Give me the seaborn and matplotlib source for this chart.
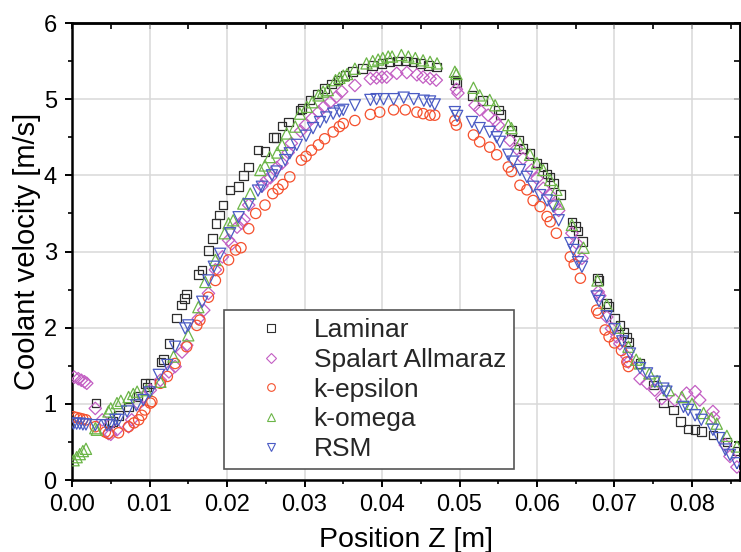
import numpy as np
import pandas as pd
import matplotlib
matplotlib.use("Agg")
import matplotlib.pyplot as plt
import seaborn as sns
from matplotlib.lines import Line2D
from matplotlib.ticker import MultipleLocator, FormatStrFormatter

sns.set_theme(style="white")
plt.rcParams['font.family'] = ['Liberation Sans', 'DejaVu Sans']

models = ["Laminar", "Spalart Allmaraz", "k-epsilon", "k-omega", "RSM"]

laminar_z = [0.0031, 0.0048, 0.0052, 0.0060, 0.0073, 0.0085, 0.0094, 0.0097, 0.0101, 0.0115,
             0.0118, 0.0125, 0.0135, 0.0141, 0.0145, 0.0148, 0.0163, 0.0168, 0.0176, 0.0181,
             0.0186, 0.0190, 0.0195, 0.0204, 0.0215, 0.0221, 0.0228, 0.0240, 0.0249, 0.0260,
             0.0263, 0.0271, 0.0279, 0.0294, 0.0297, 0.0307, 0.0317, 0.0326, 0.0335, 0.0343,
             0.0352, 0.0362, 0.0375, 0.0388, 0.0400, 0.0410, 0.0420, 0.0430, 0.0440, 0.0450,
             0.0460, 0.0470, 0.0494, 0.0497, 0.0516, 0.0530, 0.0550, 0.0553, 0.0567, 0.0576,
             0.0582, 0.0591, 0.0600, 0.0608, 0.0613, 0.0617, 0.0621, 0.0630, 0.0645, 0.0650,
             0.0653, 0.0659, 0.0678, 0.0680, 0.0690, 0.0692, 0.0700, 0.0707, 0.0712, 0.0716,
             0.0719, 0.0733, 0.0750, 0.0763, 0.0776, 0.0785, 0.0795, 0.0804, 0.0812, 0.0827,
             0.0845, 0.0858]
laminar_v = [1.01, 0.75, 0.77, 0.85, 0.96, 1.10, 1.27, 1.22, 1.27, 1.55,
             1.58, 1.79, 2.13, 2.30, 2.38, 2.44, 2.70, 2.76, 3.01, 3.17,
             3.37, 3.48, 3.61, 3.81, 3.85, 4.00, 4.11, 4.33, 4.31, 4.50,
             4.50, 4.65, 4.70, 4.86, 4.88, 4.99, 5.07, 5.14, 5.20, 5.25,
             5.31, 5.36, 5.40, 5.44, 5.47, 5.49, 5.50, 5.50, 5.49, 5.47,
             5.44, 5.42, 5.25, 5.22, 5.05, 4.98, 4.86, 4.80, 4.59, 4.46,
             4.35, 4.29, 4.16, 4.11, 4.02, 3.98, 3.89, 3.75, 3.39, 3.33,
             3.27, 3.13, 2.65, 2.62, 2.32, 2.28, 2.12, 2.03, 1.94, 1.87,
             1.81, 1.53, 1.25, 1.01, 0.92, 0.77, 0.67, 0.66, 0.64, 0.59,
             0.50, 0.38]

sa_z = [0.0003, 0.0008, 0.0012, 0.0016, 0.0019, 0.0030, 0.0039, 0.0047, 0.0050, 0.0058,
        0.0073, 0.0077, 0.0086, 0.0092, 0.0101, 0.0114, 0.0125, 0.0133, 0.0142, 0.0148,
        0.0163, 0.0170, 0.0176, 0.0185, 0.0194, 0.0202, 0.0206, 0.0213, 0.0219, 0.0222,
        0.0228, 0.0245, 0.0251, 0.0256, 0.0264, 0.0271, 0.0279, 0.0283, 0.0295, 0.0301,
        0.0310, 0.0318, 0.0325, 0.0333, 0.0341, 0.0348, 0.0365, 0.0385, 0.0393, 0.0400,
        0.0406, 0.0419, 0.0432, 0.0445, 0.0453, 0.0462, 0.0470, 0.0496, 0.0498, 0.0520,
        0.0526, 0.0537, 0.0546, 0.0550, 0.0565, 0.0574, 0.0582, 0.0593, 0.0600, 0.0608,
        0.0617, 0.0623, 0.0628, 0.0645, 0.0651, 0.0658, 0.0679, 0.0681, 0.0690, 0.0696,
        0.0703, 0.0707, 0.0716, 0.0718, 0.0733, 0.0742, 0.0752, 0.0761, 0.0778, 0.0793,
        0.0804, 0.0810, 0.0827, 0.0828, 0.0843, 0.0849, 0.0858]
sa_v = [1.35, 1.33, 1.31, 1.29, 1.27, 0.94, 0.79, 0.61, 0.60, 0.66,
        0.70, 0.79, 1.00, 1.09, 1.18, 1.31, 1.42, 1.49, 1.68, 1.77,
        2.12, 2.23, 2.45, 2.76, 2.93, 3.15, 3.10, 3.32, 3.37, 3.42,
        3.61, 3.86, 3.94, 3.97, 4.10, 4.16, 4.30, 4.42, 4.58, 4.66,
        4.75, 4.83, 4.90, 4.96, 5.03, 5.10, 5.18, 5.27, 5.28, 5.29,
        5.29, 5.34, 5.35, 5.32, 5.29, 5.27, 5.25, 5.13, 5.08, 4.92,
        4.86, 4.79, 4.72, 4.66, 4.46, 4.35, 4.22, 4.07, 3.96, 3.83,
        3.74, 3.61, 3.54, 3.24, 3.11, 2.91, 2.47, 2.42, 2.14, 1.99,
        1.88, 1.79, 1.62, 1.55, 1.33, 1.27, 1.18, 1.07, 1.05, 1.14,
        1.16, 1.05, 0.90, 0.82, 0.46, 0.31, 0.17]

ke_z = [0.0002, 0.0006, 0.0010, 0.0014, 0.0018, 0.0030, 0.0043, 0.0047, 0.0060, 0.0073,
        0.0080, 0.0086, 0.0090, 0.0094, 0.0101, 0.0103, 0.0114, 0.0123, 0.0133, 0.0148,
        0.0161, 0.0165, 0.0176, 0.0185, 0.0189, 0.0202, 0.0211, 0.0218, 0.0228, 0.0237,
        0.0249, 0.0259, 0.0266, 0.0272, 0.0281, 0.0296, 0.0302, 0.0309, 0.0318, 0.0326,
        0.0337, 0.0345, 0.0350, 0.0365, 0.0385, 0.0397, 0.0415, 0.0430, 0.0445, 0.0453,
        0.0462, 0.0468, 0.0494, 0.0496, 0.0518, 0.0526, 0.0539, 0.0548, 0.0563, 0.0567,
        0.0578, 0.0587, 0.0595, 0.0604, 0.0613, 0.0617, 0.0625, 0.0643, 0.0648, 0.0656,
        0.0677, 0.0679, 0.0688, 0.0693, 0.0700, 0.0709, 0.0716, 0.0718]
ke_v = [0.83, 0.82, 0.81, 0.80, 0.79, 0.70, 0.63, 0.61, 0.62, 0.70,
        0.75, 0.79, 0.85, 0.92, 1.01, 1.03, 1.27, 1.36, 1.53, 1.75,
        2.03, 2.10, 2.40, 2.62, 2.76, 2.89, 3.02, 3.05, 3.30, 3.50,
        3.61, 3.76, 3.82, 3.88, 3.98, 4.20, 4.25, 4.33, 4.40, 4.48,
        4.57, 4.64, 4.68, 4.72, 4.80, 4.83, 4.86, 4.86, 4.83, 4.81,
        4.79, 4.79, 4.72, 4.66, 4.53, 4.44, 4.37, 4.27, 4.11, 4.05,
        3.87, 3.81, 3.67, 3.59, 3.46, 3.39, 3.24, 2.93, 2.83, 2.65,
        2.23, 2.19, 1.97, 1.88, 1.80, 1.70, 1.55, 1.49]

ko_z = [0.0002, 0.0006, 0.0010, 0.0014, 0.0018, 0.0030, 0.0032, 0.0047, 0.0050, 0.0058,
        0.0063, 0.0073, 0.0079, 0.0084, 0.0096, 0.0114, 0.0131, 0.0150, 0.0163, 0.0172,
        0.0185, 0.0197, 0.0202, 0.0208, 0.0221, 0.0230, 0.0243, 0.0249, 0.0255, 0.0265,
        0.0271, 0.0277, 0.0288, 0.0294, 0.0303, 0.0310, 0.0318, 0.0324, 0.0330, 0.0340,
        0.0345, 0.0350, 0.0355, 0.0365, 0.0380, 0.0388, 0.0395, 0.0401, 0.0408, 0.0413,
        0.0425, 0.0434, 0.0443, 0.0453, 0.0462, 0.0471, 0.0494, 0.0496, 0.0518, 0.0526,
        0.0539, 0.0546, 0.0563, 0.0567, 0.0578, 0.0591, 0.0600, 0.0608, 0.0617, 0.0625,
        0.0628, 0.0645, 0.0660, 0.0678, 0.0690, 0.0705, 0.0718, 0.0728, 0.0733, 0.0745,
        0.0755, 0.0770, 0.0787, 0.0800, 0.0815, 0.0825, 0.0832, 0.0845, 0.0858]
ko_v = [0.26, 0.30, 0.34, 0.38, 0.41, 0.68, 0.66, 0.90, 0.94, 1.01,
        1.04, 1.09, 1.13, 1.16, 1.18, 1.29, 1.62, 1.90, 2.27, 2.60,
        2.89, 3.24, 3.37, 3.41, 3.63, 3.76, 4.07, 4.13, 4.24, 4.30,
        4.40, 4.55, 4.64, 4.81, 4.90, 4.96, 5.05, 5.10, 5.12, 5.25,
        5.28, 5.31, 5.33, 5.40, 5.47, 5.50, 5.52, 5.54, 5.56, 5.56,
        5.58, 5.56, 5.54, 5.51, 5.49, 5.47, 5.36, 5.33, 5.15, 5.05,
        4.99, 4.92, 4.66, 4.62, 4.42, 4.27, 4.16, 4.07, 3.94, 3.81,
        3.63, 3.35, 3.05, 2.62, 2.30, 2.00, 1.75, 1.58, 1.53, 1.40,
        1.30, 1.18, 1.09, 1.00, 0.88, 0.81, 0.74, 0.58, 0.44]

rsm_z = [0.0002, 0.0006, 0.0010, 0.0014, 0.0018, 0.0030, 0.0045, 0.0049, 0.0056, 0.0060,
         0.0071, 0.0083, 0.0092, 0.0100, 0.0112, 0.0123, 0.0133, 0.0146, 0.0150, 0.0168,
         0.0176, 0.0183, 0.0191, 0.0204, 0.0215, 0.0228, 0.0240, 0.0245, 0.0258, 0.0264,
         0.0275, 0.0281, 0.0290, 0.0302, 0.0311, 0.0320, 0.0328, 0.0337, 0.0345, 0.0350,
         0.0365, 0.0385, 0.0393, 0.0402, 0.0415, 0.0428, 0.0441, 0.0454, 0.0462, 0.0468,
         0.0494, 0.0497, 0.0516, 0.0526, 0.0539, 0.0548, 0.0552, 0.0563, 0.0569, 0.0578,
         0.0587, 0.0595, 0.0604, 0.0613, 0.0621, 0.0628, 0.0643, 0.0647, 0.0653, 0.0658,
         0.0677, 0.0680, 0.0690, 0.0700, 0.0710, 0.0720, 0.0733, 0.0742, 0.0752, 0.0763,
         0.0767, 0.0789, 0.0795, 0.0804, 0.0812, 0.0827, 0.0835, 0.0843, 0.0849, 0.0858]
rsm_v = [0.74, 0.74, 0.74, 0.73, 0.73, 0.72, 0.72, 0.72, 0.79, 0.79,
         0.90, 0.98, 1.05, 1.15, 1.38, 1.51, 1.75, 1.99, 2.03, 2.34,
         2.62, 2.80, 2.97, 3.24, 3.45, 3.62, 3.80, 3.85, 4.00, 4.05,
         4.20, 4.29, 4.40, 4.52, 4.62, 4.70, 4.76, 4.81, 4.84, 4.86,
         4.92, 4.99, 5.00, 5.00, 5.00, 5.02, 5.00, 4.98, 4.97, 4.93,
         4.83, 4.78, 4.70, 4.62, 4.57, 4.50, 4.44, 4.27, 4.18, 4.07,
         3.98, 3.85, 3.74, 3.67, 3.59, 3.41, 3.11, 3.02, 2.86, 2.80,
         2.41, 2.35, 2.15, 1.98, 1.82, 1.66, 1.47, 1.40, 1.29, 1.20,
         1.16, 0.96, 0.92, 0.85, 0.79, 0.66, 0.55, 0.40, 0.33, 0.22]

series = {
    "Laminar": (laminar_z, laminar_v),
    "Spalart Allmaraz": (sa_z, sa_v),
    "k-epsilon": (ke_z, ke_v),
    "k-omega": (ko_z, ko_v),
    "RSM": (rsm_z, rsm_v),
}
df = pd.concat([pd.DataFrame({"z": z, "v": v, "model": name})
                for name, (z, v) in series.items()], ignore_index=True)

colors = {"Laminar": "#2e2e2e", "Spalart Allmaraz": "#c35ec3", "k-epsilon": "#f5502d",
          "k-omega": "#6bb547", "RSM": "#4a5bc4"}
markers = {"Laminar": "s", "Spalart Allmaraz": "D", "k-epsilon": "o", "k-omega": "^", "RSM": "v"}
sizes = {"Laminar": 38, "Spalart Allmaraz": 40, "k-epsilon": 55, "k-omega": 65, "RSM": 65}

fig = plt.figure(figsize=(7.41, 5.52), dpi=100)
ax = fig.add_axes([0.0972, 0.1304, 0.9015, 0.8279])

for name in models:
    sub = df[df["model"] == name]
    sns.scatterplot(data=sub, x="z", y="v", marker=markers[name], s=sizes[name],
                    facecolor="none", edgecolor=colors[name], linewidth=0.9,
                    ax=ax, legend=False, zorder=3)

ax.set_xlim(0, 0.0862)
ax.set_ylim(0, 6)
ax.xaxis.set_major_locator(MultipleLocator(0.01))
ax.xaxis.set_minor_locator(MultipleLocator(0.005))
ax.xaxis.set_major_formatter(FormatStrFormatter("%.2f"))
ax.yaxis.set_major_locator(MultipleLocator(1))
ax.yaxis.set_minor_locator(MultipleLocator(0.5))
ax.grid(True, which="major", color="#d8d8d8", linewidth=1.1, zorder=0)
ax.set_axisbelow(True)

for sp in ax.spines.values():
    sp.set_color("black")
    sp.set_linewidth(1.8)

ax.tick_params(axis="both", which="major", direction="out", length=5, width=1.4,
               labelsize=17, color="black", labelcolor="black", bottom=True, left=True)
ax.tick_params(axis="both", which="minor", direction="out", length=3, width=1.2,
               color="black", bottom=True, left=True)
ax.tick_params(axis="y", which="major", pad=6)
ax.tick_params(axis="x", which="major", pad=5)

top = ax.secondary_xaxis("top")
top.xaxis.set_major_locator(MultipleLocator(0.01))
top.xaxis.set_minor_locator(MultipleLocator(0.005))
top.tick_params(which="both", direction="in", length=4, width=1.2, labeltop=False, color="black")
top.spines["top"].set_linewidth(1.8)
right = ax.secondary_yaxis("right")
right.yaxis.set_major_locator(MultipleLocator(1))
right.yaxis.set_minor_locator(MultipleLocator(0.5))
right.tick_params(which="both", direction="in", length=4, width=1.2, labelright=False, color="black")

ax.set_xlabel("Position Z [m]", fontsize=20.5, color="black", labelpad=8)
ax.set_ylabel("Coolant velocity [m/s]", fontsize=21, color="black", labelpad=2)

handles = [Line2D([], [], linestyle="none", marker=markers[n], markersize=5.5,
                  markerfacecolor="none", markeredgecolor=colors[n], markeredgewidth=0.8,
                  label=n) for n in models]
leg = ax.legend(handles=handles, loc="upper left", bbox_to_anchor=(0.2275, 0.372),
                borderaxespad=0, fontsize=19, frameon=True, fancybox=False,
                handlelength=3.0, handletextpad=0.1, labelspacing=0.22,
                borderpad=0.3)
leg.get_frame().set_edgecolor("#555555")
leg.get_frame().set_linewidth(1.2)
leg.get_frame().set_facecolor("white")
leg.get_frame().set_alpha(1)
leg.set_zorder(5)

fig.savefig("out.png", dpi=100)
